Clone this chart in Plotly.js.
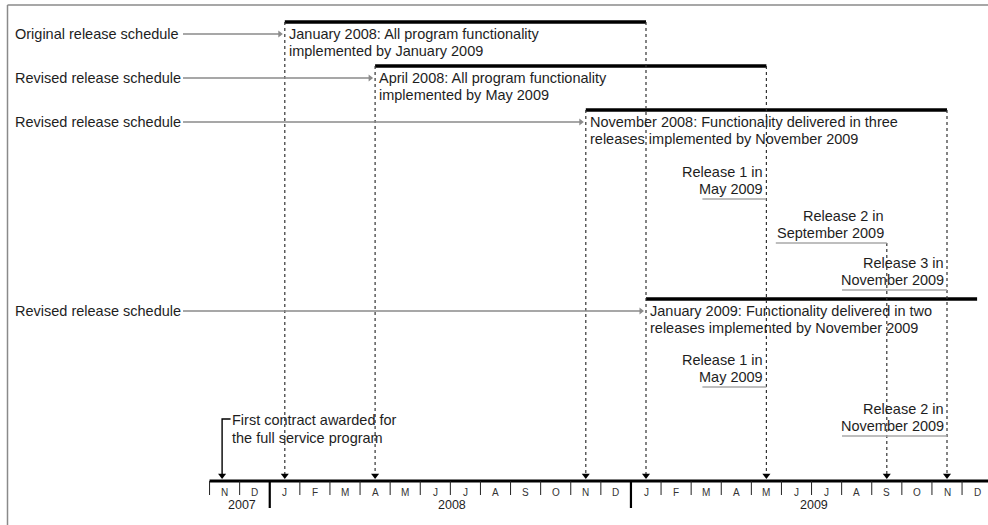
<!DOCTYPE html>
<html>
<head>
<meta charset="utf-8">
<script src="https://cdn.plot.ly/plotly-3.0.1.min.js"></script>
<style>
  html, body { margin: 0; padding: 0; background: #ffffff; }
  #chart { width: 988px; height: 525px; }
</style>
</head>
<body>
<div id="chart"></div>
<script>
// ---------------- DATA ----------------
// months from November 2007 (index 0) to December 2009 (index 25)
const monthLetters = ['N','D','J','F','M','A','M','J','J','A','S','O','N','D',
                      'J','F','M','A','M','J','J','A','S','O','N','D'];
const yearLabels = ['2007', '2008', '2009'];
const yearFirstMonth = [0, 2, 14];
const yearLastMonth = [1, 13, 25];

const scheduleNames = ['Original release schedule', 'Revised release schedule',
                       'Revised release schedule', 'Revised release schedule'];
const scheduleStart = [2, 5, 12, 14];       // Jan 2008, Apr 2008, Nov 2008, Jan 2009
const scheduleEnd = [14, 18, 24, 24];       // Jan 2009, May 2009, Nov 2009, Nov 2009
const scheduleBarEnd = [14, 18, 24, 25];
const scheduleLine1 = ['January 2008: All program functionality',
                       'April 2008: All program functionality',
                       'November 2008: Functionality delivered in three',
                       'January 2009: Functionality delivered in two'];
const scheduleLine2 = ['implemented by January 2009',
                       'implemented by May 2009',
                       'releases implemented by November 2009',
                       'releases implemented by November 2009'];

const releaseSchedule = [2, 2, 2, 3, 3];
const releaseMonth = [18, 22, 24, 18, 24];  // May, Sep, Nov, May, Nov 2009
const releaseLine1 = ['Release 1 in', 'Release 2 in', 'Release 3 in', 'Release 1 in', 'Release 2 in'];
const releaseLine2 = ['May 2009', 'September 2009', 'November 2009', 'May 2009', 'November 2009'];

const contractMonth = 0;                    // November 2007
const contractLines = ['First contract awarded for', 'the full service program'];

// ---------------- LAYOUT CONSTANTS ----------------
const W = 988, H = 525;
const originPx = 224.6, monthPx = 30.1;     // pixel of first month centre, pixels per month
const pxToX = px => (px - originPx) / monthPx;
const pxLen = px => px / monthPx;
const rowBarY = [22, 66, 110, 299];
const releaseUnderY = [199, 243, 290, 387, 436];
const releaseUnderLen = [64, 111, 105, 64, 105];
const labelLeftPx = 14, labelTailPx = 183;
const axisY = 481, arrowTipY = 479;
const contractTopY = 419;
const FONT = 'Liberation Sans, Arial, Helvetica, sans-serif';
const TXT = '#1e1e1e';
const FS = 14.5;

const traces = [];
const annotations = [];
function txt(x, y, text, opts) {
  annotations.push(Object.assign({
    x: x, y: y, xref: 'x', yref: 'y', text: text, showarrow: false,
    xanchor: 'left', yanchor: 'middle', borderpad: 0,
    font: {family: FONT, size: FS, color: TXT}
  }, opts || {}));
}

// schedule bars
{
  const x = [], y = [];
  scheduleStart.forEach((s, i) => { x.push(s, scheduleBarEnd[i], null); y.push(rowBarY[i], rowBarY[i], null); });
  traces.push({x, y, mode: 'lines', line: {color: '#000', width: 3.5}, hoverinfo: 'skip'});
}

// dashed vertical drop lines
const dropTop = {};
function addDrop(m, y) { if (dropTop[m] === undefined || y < dropTop[m]) dropTop[m] = y; }
scheduleStart.forEach((s, i) => { addDrop(s, rowBarY[i]); addDrop(scheduleEnd[i], rowBarY[i]); });
releaseMonth.forEach((m, i) => addDrop(m, releaseUnderY[i]));
{
  const x = [], y = [];
  Object.keys(dropTop).forEach(k => { const m = +k; x.push(m, m, null); y.push(dropTop[k], arrowTipY - 4, null); });
  traces.push({x, y, mode: 'lines', line: {color: '#333', width: 1.2, dash: '3px,3px'}, hoverinfo: 'skip'});
}

// schedule labels with gray arrows
{
  const x = [], y = [], hx = [], hy = [];
  scheduleNames.forEach((name, i) => {
    const ly = rowBarY[i] + 12;
    txt(pxToX(labelLeftPx), ly, name);
    x.push(pxToX(labelTailPx), scheduleStart[i] - pxLen(5), null);
    y.push(ly, ly, null);
    hx.push(scheduleStart[i] - pxLen(5)); hy.push(ly);
    txt(scheduleStart[i], ly, scheduleLine1[i], {xshift: 3});
    txt(scheduleStart[i], ly + 17, scheduleLine2[i], {xshift: 3});
  });
  traces.push({x, y, mode: 'lines', line: {color: '#8a8a8a', width: 1.4}, hoverinfo: 'skip'});
  traces.push({x: hx, y: hy, mode: 'markers', marker: {symbol: 'triangle-right', size: 6, color: '#8a8a8a'}, hoverinfo: 'skip'});
}

// releases
{
  const x = [], y = [];
  releaseMonth.forEach((m, i) => {
    const uy = releaseUnderY[i];
    x.push(m - pxLen(releaseUnderLen[i]), m, null); y.push(uy, uy, null);
    txt(m, uy - 27.5, releaseLine1[i], {xanchor: 'right', xshift: -2});
    txt(m, uy - 10.5, releaseLine2[i], {xanchor: 'right', xshift: -2});
  });
  traces.push({x, y, mode: 'lines', line: {color: '#a8a8a8', width: 1.5}, hoverinfo: 'skip'});
}

// contract bracket
traces.push({
  x: [contractMonth + pxLen(6), contractMonth - pxLen(2.5), contractMonth - pxLen(2.5)],
  y: [contractTopY, contractTopY, arrowTipY - 4],
  mode: 'lines', line: {color: '#000', width: 1.4}, hoverinfo: 'skip'
});
txt(contractMonth, contractTopY + 1, contractLines[0], {xshift: 6});
txt(contractMonth, contractTopY + 19, contractLines[1], {xshift: 6});

// down arrowheads on the time axis
{
  const hx = Object.keys(dropTop).map(Number).concat([contractMonth - pxLen(2.5)]);
  const hy = hx.map(() => arrowTipY - 3.5);
  traces.push({x: hx, y: hy, mode: 'markers', marker: {symbol: 'triangle-down', size: 7, color: '#000'}, hoverinfo: 'skip'});
}

// time axis
const nM = monthLetters.length;
traces.push({x: [-0.5, nM + 1], y: [axisY, axisY], mode: 'lines', line: {color: '#000', width: 3.2}, hoverinfo: 'skip'});
{
  const x = [], y = [];
  for (let i = 0; i < nM; i++) {
    const b = i - 0.5;
    if (yearFirstMonth.indexOf(i) > 0) continue;
    x.push(b, b, null); y.push(axisY, axisY + 14, null);
  }
  traces.push({x, y, mode: 'lines', line: {color: '#222', width: 1}, hoverinfo: 'skip'});
  const yx = [], yy = [];
  yearFirstMonth.forEach((f, i) => { if (i > 0) { yx.push(f - 0.5, f - 0.5, null); yy.push(axisY, axisY + 27, null); } });
  traces.push({x: yx, y: yy, mode: 'lines', line: {color: '#000', width: 2.2}, hoverinfo: 'skip'});
}
monthLetters.forEach((m, i) => txt(i, axisY + 11, m, {xanchor: 'center', font: {family: FONT, size: 10, color: '#333'}}));
yearLabels.forEach((yl, i) => txt((yearFirstMonth[i] + yearLastMonth[i]) / 2 + pxLen(2), axisY + 24, yl,
  {xanchor: 'center', font: {family: FONT, size: 12.5, color: TXT}}));

const layout = {
  width: W, height: H,
  margin: {l: 0, r: 0, t: 0, b: 0},
  paper_bgcolor: '#ffffff', plot_bgcolor: '#ffffff',
  showlegend: false,
  xaxis: {range: [pxToX(0), pxToX(W)], visible: false, fixedrange: true},
  yaxis: {range: [H, 0], visible: false, fixedrange: true},
  annotations: annotations,
  shapes: [
    {type: 'line', xref: 'paper', yref: 'paper', x0: 7.5 / W, x1: 7.5 / W, y0: 1 - 5 / H, y1: -0.05,
     line: {color: '#8a8a8a', width: 1.5}, layer: 'below'},
    {type: 'line', xref: 'paper', yref: 'paper', x0: 7.5 / W, x1: 1.05, y0: 1 - 5 / H, y1: 1 - 5 / H,
     line: {color: '#8a8a8a', width: 1.5}, layer: 'below'}
  ]
};

Plotly.newPlot('chart', traces, layout, {staticPlot: true, displayModeBar: false});
</script>
</body>
</html>
